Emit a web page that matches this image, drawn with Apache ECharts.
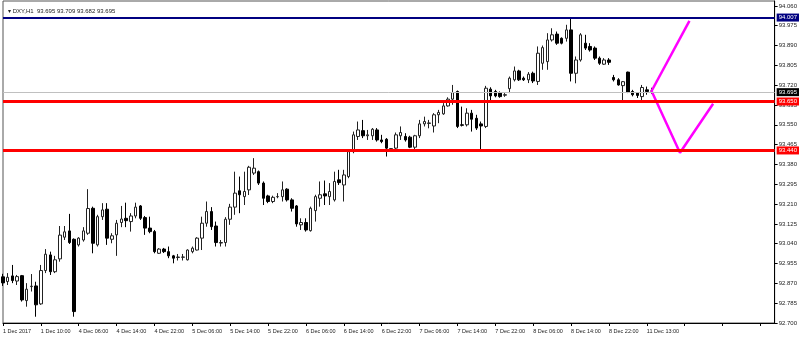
<!DOCTYPE html>
<html><head><meta charset="utf-8">
<script src="https://cdn.jsdelivr.net/npm/echarts@6/dist/echarts.min.js"></script>
<style>html,body{margin:0;padding:0;background:#fff}#c{width:800px;height:338px}</style>
</head><body><div id="c"></div>
<script>
// ---- DATA (DXY, H1) ----
const opens = [92.898,92.878,92.902,92.880,92.903,92.796,92.856,92.859,92.782,92.925,
92.992,92.920,92.975,93.068,93.095,93.059,93.035,93.056,93.085,93.192,
93.035,93.156,93.188,93.059,93.078,93.131,93.149,93.135,93.159,93.202,
93.152,93.107,93.092,92.999,93.017,93.006,92.988,92.981,92.982,92.971,
93.006,93.013,93.064,93.128,93.178,93.116,93.043,93.045,93.145,93.197,
93.267,93.242,93.271,93.343,93.349,93.300,93.245,93.221,93.242,93.242,
93.274,93.228,93.202,93.121,93.131,93.096,93.182,93.235,93.254,93.242,
93.228,93.314,93.292,93.328,93.435,93.500,93.525,93.503,93.503,93.528,
93.485,93.488,93.446,93.450,93.503,93.500,93.497,93.454,93.503,93.554,
93.556,93.545,93.593,93.597,93.631,93.660,93.693,93.550,93.550,93.600,
93.578,93.554,93.543,93.703,93.693,93.686,93.677,93.705,93.743,93.781,
93.750,93.743,93.771,93.736,93.814,93.821,93.914,93.939,93.921,93.921,
93.957,93.771,93.828,93.900,93.886,93.879,93.836,93.810,93.828,93.753,
93.743,93.718,93.776,93.693,93.686,93.671,93.700,93.695];
const highs = [92.911,92.914,92.949,92.906,92.906,92.871,92.910,92.877,92.949,93.017,
93.006,92.988,93.116,93.116,93.168,93.063,93.068,93.111,93.274,93.199,
93.164,93.214,93.214,93.085,93.142,93.202,93.216,93.171,93.216,93.206,
93.159,93.156,93.099,93.021,93.022,93.028,92.992,92.996,92.996,93.016,
93.028,93.068,93.156,93.221,93.197,93.135,93.056,93.154,93.211,93.349,
93.328,93.349,93.374,93.407,93.354,93.307,93.250,93.246,93.257,93.307,
93.278,93.235,93.206,93.149,93.149,93.199,93.250,93.307,93.311,93.300,
93.349,93.357,93.357,93.442,93.521,93.564,93.571,93.528,93.536,93.536,
93.507,93.493,93.450,93.517,93.543,93.514,93.503,93.507,93.571,93.585,
93.571,93.600,93.614,93.643,93.668,93.721,93.697,93.628,93.621,93.614,
93.593,93.564,93.717,93.711,93.700,93.693,93.686,93.757,93.800,93.786,
93.757,93.776,93.778,93.886,93.890,93.943,93.964,93.950,93.925,93.979,
94.005,93.843,93.943,93.936,93.900,93.886,93.843,93.836,93.836,93.764,
93.750,93.738,93.778,93.700,93.690,93.721,93.714,93.709];
const lows = [92.859,92.863,92.871,92.863,92.792,92.770,92.835,92.727,92.778,92.914,
92.906,92.914,92.963,93.056,93.039,92.727,93.028,93.049,93.078,92.999,
93.028,93.142,93.035,93.042,92.988,93.111,93.111,93.092,93.149,93.142,
93.078,93.085,92.999,92.996,93.000,92.978,92.956,92.968,92.968,92.968,
92.999,93.011,93.013,93.113,93.099,93.028,93.028,93.028,93.121,93.164,
93.171,93.206,93.249,93.335,93.292,93.206,93.214,93.214,93.235,93.221,
93.221,93.178,93.113,93.099,93.092,93.092,93.135,93.199,93.206,93.206,
93.221,93.292,93.221,93.321,93.428,93.485,93.493,93.485,93.485,93.478,
93.471,93.414,93.435,93.442,93.485,93.478,93.450,93.446,93.493,93.543,
93.535,93.517,93.557,93.593,93.628,93.636,93.536,93.543,93.543,93.521,
93.528,93.442,93.536,93.650,93.668,93.666,93.670,93.686,93.736,93.738,
93.738,93.729,93.729,93.721,93.786,93.786,93.907,93.893,93.895,93.907,
93.736,93.728,93.821,93.871,93.864,93.828,93.807,93.807,93.807,93.736,
93.718,93.647,93.686,93.672,93.665,93.647,93.679,93.682];
const closes = [92.872,92.896,92.882,92.899,92.799,92.845,92.858,92.778,92.925,92.995,
92.920,92.971,93.077,93.091,93.045,92.749,93.064,93.095,93.191,93.042,
93.156,93.185,93.064,93.074,93.128,93.146,93.139,93.159,93.197,93.149,
93.107,93.092,93.006,93.017,93.006,92.988,92.978,92.983,92.983,93.013,
93.021,93.064,93.128,93.178,93.113,93.045,93.045,93.145,93.197,93.257,
93.250,93.264,93.368,93.364,93.300,93.235,93.221,93.239,93.242,93.271,
93.228,93.192,93.125,93.131,93.099,93.192,93.242,93.250,93.245,93.264,
93.307,93.302,93.335,93.435,93.507,93.528,93.503,93.507,93.531,93.485,
93.478,93.450,93.448,93.507,93.517,93.485,93.454,93.503,93.554,93.564,
93.558,93.593,93.603,93.631,93.660,93.688,93.543,93.548,93.600,93.574,
93.536,93.545,93.707,93.674,93.674,93.671,93.679,93.750,93.781,93.743,
93.743,93.767,93.738,93.857,93.881,93.914,93.936,93.900,93.900,93.957,
93.771,93.828,93.936,93.879,93.871,93.836,93.814,93.828,93.818,93.743,
93.721,93.735,93.690,93.679,93.676,93.710,93.693,93.695];

const xTickLabels = ['1 Dec 2017','1 Dec 10:00','4 Dec 06:00','4 Dec 14:00','4 Dec 22:00',
'5 Dec 06:00','5 Dec 14:00','5 Dec 22:00','6 Dec 06:00','6 Dec 14:00','6 Dec 22:00',
'7 Dec 06:00','7 Dec 14:00','7 Dec 22:00','8 Dec 06:00','8 Dec 14:00','8 Dec 22:00','11 Dec 13:00'];
const yTickValues = [92.700,92.785,92.870,92.955,93.040,93.125,93.210,93.295,93.380,
93.465,93.550,93.635,93.720,93.805,93.890,93.975,94.060];

const resistanceLevel = 94.007;
const currentPrice = 93.695;
const supportLevels = [93.650, 93.440];

const projectionUp = [[137, 93.695], [145, 93.996]];
const projectionDown = [[137, 93.695], [143, 93.430], [150, 93.640]];

const headerText = '\u25BE DXY,H1  93.695 93.709 93.682 93.695';

// ---- BUILD ----
const slotCount = 164;
const TICK_STEP = 8;
const categories = Array.from({length: slotCount}, (_, i) => String(i));
const candleData = opens.map((o, i) => [o, closes[i], lows[i], highs[i]]);

const FONT = 'Liberation Sans';
function level(value, lineColor, width, bg) {
  return {
    yAxis: value, name: value.toFixed(3),
    lineStyle: {color: lineColor, width: width, type: 'solid'},
    label: {
      show: true, position: 'end', distance: 2,
      formatter: value.toFixed(3),
      backgroundColor: bg, color: '#fff', fontSize: 6, fontFamily: FONT,
      padding: [1, 2, 0, 2], lineHeight: 7
    }
  };
}

const chart = echarts.init(document.getElementById('c'), null, {renderer: 'canvas'});
chart.setOption({
  animation: false,
  backgroundColor: '#fff',
  title: {
    text: headerText, left: 3, top: 3,
    textStyle: {fontSize: 6, fontWeight: 'normal', color: '#222', fontFamily: FONT}
  },
  grid: {left: 2, right: 25, top: 1, bottom: 15, show: true, borderColor: '#555', borderWidth: 1},
  xAxis: {
    type: 'category', data: categories, boundaryGap: false,
    axisLine: {show: true, lineStyle: {color: '#000', width: 1}},
    axisTick: {show: true, interval: TICK_STEP - 1, length: 3, lineStyle: {color: '#000'}},
    axisLabel: {
      interval: TICK_STEP - 1, align: 'left', margin: 5, fontSize: 5.5, color: '#222', fontFamily: FONT,
      formatter: (v, idx) => {
        const k = idx / TICK_STEP;
        return Number.isInteger(k) && k < xTickLabels.length ? xTickLabels[k] : '';
      }
    },
    splitLine: {show: false}
  },
  yAxis: {
    type: 'value', position: 'right', min: 92.700, max: 94.081, scale: true,
    axisLine: {show: true, lineStyle: {color: '#000', width: 1}},
    axisTick: {show: true, length: 3, customValues: yTickValues, lineStyle: {color: '#000'}},
    axisLabel: {
      customValues: yTickValues, margin: 4, fontSize: 6, color: '#222', fontFamily: FONT,
      formatter: v => Number(v).toFixed(3)
    },
    splitLine: {show: false}
  },
  series: [
    {
      type: 'candlestick', data: candleData, barWidth: 3,
      itemStyle: {color: '#fff', color0: '#000', borderColor: '#222', borderColor0: '#000', borderWidth: 1},
      markLine: {
        silent: true, symbol: ['none', 'none'], z: 10,
        data: [
          level(currentPrice, '#c0c0c0', 1, '#000'),
          level(resistanceLevel, '#000080', 2, '#000080'),
          level(supportLevels[0], '#ff0000', 3, '#ff0000'),
          level(supportLevels[1], '#ff0000', 3, '#ff0000')
        ]
      }
    },
    {
      type: 'line', data: projectionUp, symbol: 'none', silent: true,
      lineStyle: {color: '#ff00ff', width: 2.5}, z: 5
    },
    {
      type: 'line', data: projectionDown, symbol: 'none', silent: true,
      lineStyle: {color: '#ff00ff', width: 2.5}, z: 5
    }
  ]
});
</script>
</body></html>
